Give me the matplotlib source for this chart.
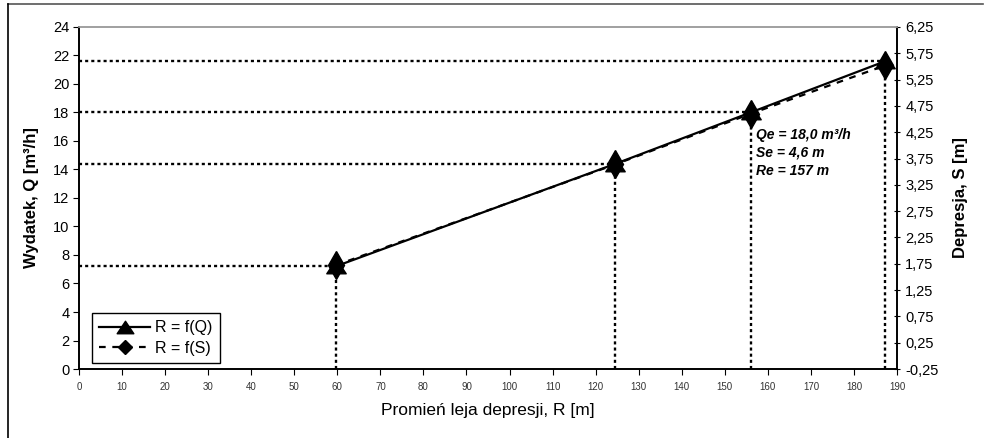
import matplotlib
matplotlib.use("Agg")
import matplotlib.pyplot as plt
from matplotlib.lines import Line2D
from matplotlib.path import Path
from matplotlib.ticker import FuncFormatter

plt.rcParams["font.family"] = ["Liberation Sans", "DejaVu Sans"]

# data
r_m = [59.6, 124.6, 156.0, 187.3]
q_m3h = [7.2, 14.4, 18.0, 21.6]
s_m = [1.72, 3.64, 4.60, 5.52]

x_ticks = list(range(0, 191, 10))
q_ticks = list(range(0, 25, 2))
s_ticks = [-0.25 + 0.5 * i for i in range(14)]

note = "Qe = 18,0 m³/h\nSe = 4,6 m\nRe = 157 m"

# wide, squat triangle like the spreadsheet marker
tri = Path([(0, 0.75), (-1, -0.75), (1, -0.75), (0, 0.75)],
           [Path.MOVETO, Path.LINETO, Path.LINETO, Path.CLOSEPOLY])

fig = plt.figure(figsize=(9.85, 4.38), dpi=100)
ax = fig.add_axes([0.0802, 0.1575, 0.8305, 0.781])
ax2 = ax.twinx()
# Q series on top of the S series
ax.set_zorder(ax2.get_zorder() + 1)
ax.patch.set_visible(False)

# frame lines around the chart (top and left only)
fig.add_artist(Line2D([8 / 985, 983 / 985], [1 - 4 / 438, 1 - 4 / 438],
                      transform=fig.transFigure, color="#555555", lw=1.2))
fig.add_artist(Line2D([8 / 985, 8 / 985], [1 - 4 / 438, 0.0],
                      transform=fig.transFigure, color="black", lw=1.2))

dots = (0, (1.3, 1.3))
for r, q in zip(r_m, q_m3h):
    ax.plot([0, r], [q, q], color="black", lw=1.7, ls=dots, zorder=1)
    ax.plot([r, r], [0, q], color="black", lw=1.7, ls=dots, zorder=1)

ax.plot(r_m, q_m3h, color="black", lw=1.6, marker=tri, ms=14, zorder=3)
ax2.plot(r_m, s_m, color="black", lw=1.6, ls=(0, (3, 3)), marker="d", ms=14, zorder=3)

ax.set_xlim(0, 190)
ax.set_ylim(0, 24)
ax2.set_ylim(-0.25, 6.25)
ax.set_xticks(x_ticks)
ax.set_yticks(q_ticks)
ax2.set_yticks(s_ticks)
ax2.yaxis.set_major_formatter(FuncFormatter(lambda v, p: f"{v:.2f}".replace(".", ",")))

ax.tick_params(axis="x", labelsize=7, colors="black", labelcolor="#333333", length=4,
               direction="out", pad=5)
ax.tick_params(axis="y", labelsize=10.5, length=4, direction="out", pad=3)
ax2.tick_params(axis="y", labelsize=10.5, length=4, direction="inout", pad=4)

for a in (ax, ax2):
    a.spines["top"].set_color("#a0a0a0")
    a.spines["top"].set_linewidth(1.2)
    for s in ("left", "right", "bottom"):
        a.spines[s].set_linewidth(1.2)

ax.set_xlabel("Promień leja depresji, R [m]", fontsize=12.5, labelpad=8)
ax.set_ylabel("Wydatek, Q [m³/h]", fontsize=12, fontweight="bold", labelpad=10)
ax2.set_ylabel("Depresja, S [m]", fontsize=12, fontweight="bold", labelpad=10)

ax.text(157.2, 16.9, note, fontsize=10, fontweight="bold", fontstyle="italic",
        va="top", ha="left", linespacing=1.35, zorder=4)

handles = [
    Line2D([], [], color="black", lw=1.6, marker=tri, ms=12),
    Line2D([], [], color="black", lw=1.6, ls=(0, (3, 3)), marker="D", ms=7),
]
leg = ax.legend(handles, ["R = f(Q)", "R = f(S)"], loc="lower left",
                bbox_to_anchor=(0.016, 0.0175), fontsize=11.5, frameon=True,
                fancybox=False, edgecolor="black", framealpha=1,
                handlelength=3.2, borderpad=0.45, labelspacing=0.35, handletextpad=0.3,
                borderaxespad=0)
leg.get_frame().set_linewidth(1.0)

fig.savefig("out.png", dpi=100)
